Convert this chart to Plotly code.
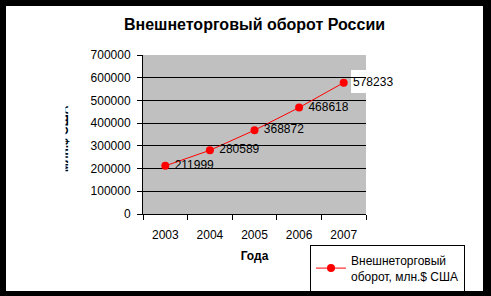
import plotly.graph_objects as go

years = ["2003", "2004", "2005", "2006", "2007"]
turnover = [211999, 280589, 368872, 468618, 578233]
labels = ["211999", "280589", "368872", "468618", "578233"]
y_ticks = [0, 100000, 200000, 300000, 400000, 500000, 600000, 700000]

W, H = 491, 296
L, R, T, B = 143, 366, 55, 214

def px(x):
    return (x - L) / (R - L)

def py(y):
    return (B - y) / (B - T)

fig = go.Figure()
fig.add_trace(go.Scatter(
    x=years, y=turnover, mode="lines+markers+text",
    text=labels, texttemplate="\u00a0%{text}", textposition="middle right",
    textfont=dict(family="Liberation Sans, Arial", size=12, color="black"),
    line=dict(color="#FF0000", width=1),
    marker=dict(color="#FF0000", size=8),
    name="Внешнеторговый<br>оборот, млн.$ США",
    cliponaxis=False,
))

shapes = [
    dict(type="rect", xref="paper", yref="paper", x0=px(351), x1=px(366),
         y0=py(93), y1=py(70), fillcolor="white", line=dict(width=0), layer="between"),
    dict(type="rect", xref="paper", yref="paper", x0=px(0), x1=px(W), y0=py(0), y1=py(6),
         fillcolor="black", line=dict(width=0), layer="above"),
    dict(type="rect", xref="paper", yref="paper", x0=px(0), x1=px(W), y0=py(291), y1=py(H),
         fillcolor="black", line=dict(width=0), layer="above"),
    dict(type="rect", xref="paper", yref="paper", x0=px(0), x1=px(6), y0=py(0), y1=py(H),
         fillcolor="black", line=dict(width=0), layer="above"),
    dict(type="rect", xref="paper", yref="paper", x0=px(483), x1=px(W), y0=py(0), y1=py(H),
         fillcolor="black", line=dict(width=0), layer="above"),
]

annotations = [
    dict(text="млн.$ США", textangle=-90, xref="paper", yref="paper",
         x=px(73), y=py(139), xanchor="right", yanchor="middle", showarrow=False,
         font=dict(family="Liberation Sans, Arial", size=12, color="black", weight="bold")),
    dict(text=" ", xref="paper", yref="paper", x=px(65.5), y=py(139),
         xanchor="right", yanchor="middle", showarrow=False, width=20, height=90,
         bgcolor="white", borderpad=0),
]

fig.update_layout(
    width=W, height=H,
    margin=dict(l=L, r=W - R, t=T, b=H - B, autoexpand=False),
    paper_bgcolor="white",
    plot_bgcolor="#C0C0C0",
    font=dict(family="Liberation Sans, Arial", size=12, color="black"),
    title=dict(text="<b>Внешнеторговый оборот России</b>", x=0.5, xref="paper",
               xanchor="center", y=1 - 24 / H, yanchor="middle",
               font=dict(size=16, color="black")),
    xaxis=dict(type="category", range=[-0.5, 4.5], tickson="boundaries",
               ticks="outside", ticklen=5, tickcolor="black", showgrid=False,
               showline=True, linecolor="black", linewidth=1, automargin=False,
               ticklabelstandoff=10,
               title=dict(text="<b>Года</b>", standoff=10,
                          font=dict(size=12, color="black"))),
    yaxis=dict(range=[0, 700000], tickvals=y_ticks, tickformat="d",
               ticks="outside", ticklen=5, tickcolor="black", automargin=False,
               showgrid=True, gridcolor="black", gridwidth=1,
               showline=True, linecolor="black", linewidth=1, zeroline=False,
               ticklabelstandoff=4),
    shapes=shapes,
    annotations=annotations,
    showlegend=True,
    legend=dict(x=px(310), y=py(245), xanchor="left", yanchor="top",
                bgcolor="white", bordercolor="black", borderwidth=1,
                font=dict(size=12, color="black"), tracegroupgap=0),
)

fig.write_html("out.html")
